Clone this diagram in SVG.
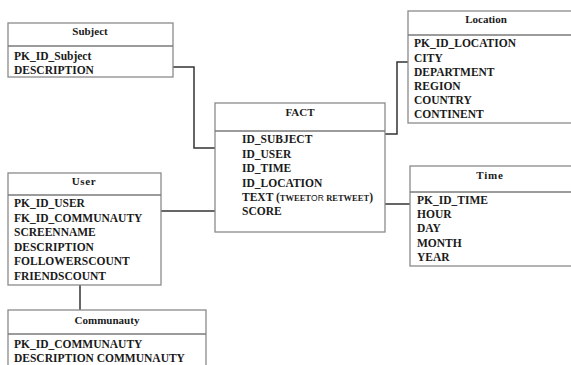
<svg xmlns="http://www.w3.org/2000/svg" width="571" height="365" viewBox="0 0 571 365">
<style>
.box{fill:#fff;stroke:#8a8a8a;stroke-width:1.3}
.hl{stroke:#7a7a7a;stroke-width:1.5}
.t{font-family:"Liberation Serif","Times New Roman",serif;font-weight:bold;font-size:11.5px;fill:#1a1a1a}
.h{font-family:"Liberation Serif","Times New Roman",serif;font-weight:bold;font-size:11px;fill:#1a1a1a;text-anchor:middle}
.c{fill:none;stroke:#333;stroke-width:1.5}
</style>
<rect width="571" height="365" fill="#fff"/>
<g id="connectors">
<polyline class="c" points="173,67 194,67 194,148 215,148"/>
<polyline class="c" points="408,62 397,62 397,134 385,134"/>
<polyline class="c" points="161,211 215,211"/>
<polyline class="c" points="385,204 410,204"/>
<polyline class="c" points="80,285 80,310"/>
</g>
<g id="subject">
<rect class="box" x="8" y="23" width="165" height="54"/>
<line class="hl" x1="8" y1="46" x2="173" y2="46"/>
<text class="h" x="90" y="35">Subject</text>
<text class="t" x="14" y="60">PK_ID_Subject</text>
<text class="t" x="14" y="73.5">DESCRIPTION</text>
</g>
<g id="location">
<rect class="box" x="408" y="11" width="170" height="112"/>
<line class="hl" x1="408" y1="35" x2="578" y2="35"/>
<text class="h" x="486" y="22.5">Location</text>
<text class="t" x="414" y="47">PK_ID_LOCATION</text>
<text class="t" x="414" y="61.5">CITY</text>
<text class="t" x="414" y="75.5">DEPARTMENT</text>
<text class="t" x="414" y="90">REGION</text>
<text class="t" x="414" y="104">COUNTRY</text>
<text class="t" x="414" y="118">CONTINENT</text>
</g>
<g id="fact">
<rect class="box" x="215" y="103" width="170" height="129"/>
<line class="hl" x1="215" y1="131" x2="385" y2="131"/>
<text class="h" x="300" y="116">FACT</text>
<text class="t" x="242" y="143">ID_SUBJECT</text>
<text class="t" x="242" y="157.5">ID_USER</text>
<text class="t" x="242" y="172">ID_TIME</text>
<text class="t" x="242" y="186.5">ID_LOCATION</text>
<text class="t" x="242" y="201">TEXT (<tspan font-size="8.5">TWEET</tspan><tspan font-size="8.5" font-weight="normal" font-family="Liberation Sans, Arial, sans-serif">OR </tspan><tspan font-size="8.5">RETWEET</tspan>)</text>
<text class="t" x="242" y="215">SCORE</text>
</g>
<g id="user">
<rect class="box" x="8" y="173" width="153" height="112"/>
<line class="hl" x1="8" y1="195" x2="161" y2="195"/>
<text class="h" x="84" y="185" letter-spacing="0.6">User</text>
<text class="t" x="14" y="207">PK_ID_USER</text>
<text class="t" x="14" y="221.5">FK_ID_COMMUNAUTY</text>
<text class="t" x="14" y="236">SCREENNAME</text>
<text class="t" x="14" y="250.5">DESCRIPTION</text>
<text class="t" x="14" y="265">FOLLOWERSCOUNT</text>
<text class="t" x="14" y="279.5">FRIENDSCOUNT</text>
</g>
<g id="time">
<rect class="box" x="410" y="166" width="168" height="100"/>
<line class="hl" x1="410" y1="192" x2="578" y2="192"/>
<text class="h" x="490" y="179" letter-spacing="0.8">Time</text>
<text class="t" x="417" y="203.5">PK_ID_TIME</text>
<text class="t" x="417" y="217.5">HOUR</text>
<text class="t" x="417" y="232">DAY</text>
<text class="t" x="417" y="246.5">MONTH</text>
<text class="t" x="417" y="260.5">YEAR</text>
</g>
<g id="communauty">
<rect class="box" x="8" y="310" width="198" height="70"/>
<line class="hl" x1="8" y1="334" x2="206" y2="334"/>
<text class="h" x="107" y="324">Communauty</text>
<text class="t" x="14" y="348">PK_ID_COMMUNAUTY</text>
<text class="t" x="14" y="362">DESCRIPTION COMMUNAUTY</text>
</g>
</svg>
